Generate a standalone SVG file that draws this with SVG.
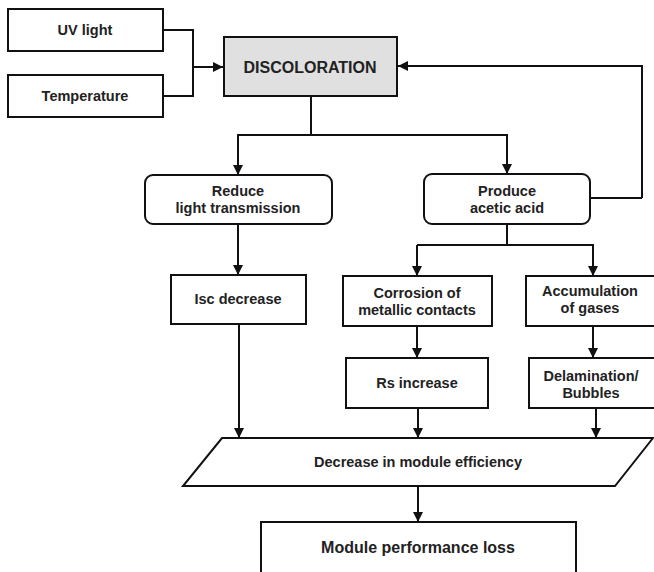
<svg xmlns="http://www.w3.org/2000/svg" width="654" height="572" viewBox="0 0 654 572">
<defs>
<marker id="ah" markerWidth="10" markerHeight="10" refX="10" refY="5" orient="auto" markerUnits="userSpaceOnUse">
<path d="M0,0 L10,5 L0,10 Z" fill="#111"/>
</marker>
<style>
.box{fill:#fff;stroke:#111;stroke-width:2}
.gray{fill:#e0e0e0;stroke:#111;stroke-width:2}
.t{font-family:"Liberation Sans",Arial,sans-serif;font-weight:bold;font-size:14.5px;fill:#222;text-anchor:middle;dominant-baseline:central}
.big{font-size:16px}
.c{fill:none;stroke:#111;stroke-width:2}
.a{marker-end:url(#ah)}
</style>
</defs>
<rect width="654" height="572" fill="#fff"/>
<g id="connectors">
<path class="c" d="M163,30 H193 V96 H163"/>
<path class="c a" d="M193,67 H223"/>
<path class="c a" d="M642,198 H590 M642,198 V66 H398"/>
<path class="c" d="M311,96 V135 H507 V174"/>
<path class="c a" d="M507,135 V174"/>
<path class="c a" d="M311,135 H238 V175"/>
<path class="c a" d="M238,224 V275"/>
<path class="c" d="M507,224 V245"/>
<path class="c a" d="M417,245 V276"/>
<path class="c a" d="M417,245 H593 V276"/>
<path class="c a" d="M417,326 V358"/>
<path class="c a" d="M593,326 V358"/>
<path class="c a" d="M239,324 V438"/>
<path class="c a" d="M418,408 V438"/>
<path class="c a" d="M596,408 V438"/>
<path class="c a" d="M418,486 V522"/>
</g>
<g id="uv"><rect class="box" x="8" y="9" width="155" height="42"/><text class="t" x="85" y="30">UV light</text></g>
<g id="temperature"><rect class="box" x="8" y="75" width="155" height="42"/><text class="t" x="85" y="96">Temperature</text></g>
<g id="discoloration"><rect class="gray" x="224" y="37" width="173" height="59"/><text class="t big" x="310" y="67">DISCOLORATION</text></g>
<g id="reduce"><rect class="box" x="145" y="175" width="187" height="49" rx="8"/><text class="t" x="238" y="191">Reduce</text><text class="t" x="238" y="208">light transmission</text></g>
<g id="produce"><rect class="box" x="424" y="174" width="166" height="50" rx="8"/><text class="t" x="507" y="191">Produce</text><text class="t" x="507" y="208">acetic acid</text></g>
<g id="isc"><rect class="box" x="171" y="275" width="135" height="49"/><text class="t" x="238" y="299">Isc decrease</text></g>
<g id="corrosion"><rect class="box" x="343" y="276" width="149" height="50"/><text class="t" x="417" y="293">Corrosion of</text><text class="t" x="417" y="310">metallic contacts</text></g>
<g id="accumulation"><rect class="box" x="526" y="276" width="140" height="50"/><text class="t" x="590" y="291">Accumulation</text><text class="t" x="590" y="308">of gases</text></g>
<g id="rs"><rect class="box" x="346" y="358" width="142" height="50"/><text class="t" x="417" y="383">Rs increase</text></g>
<g id="delamination"><rect class="box" x="529" y="358" width="137" height="50"/><text class="t" x="591" y="376">Delamination/</text><text class="t" x="591" y="393">Bubbles</text></g>
<g id="efficiency"><path class="box" d="M222,438 H653 L615,486 H183 Z"/><text class="t" x="418" y="462">Decrease in module efficiency</text></g>
<g id="loss"><rect class="box" x="261" y="522" width="315" height="60"/><text class="t big" x="418" y="547">Module performance loss</text></g>
</svg>
